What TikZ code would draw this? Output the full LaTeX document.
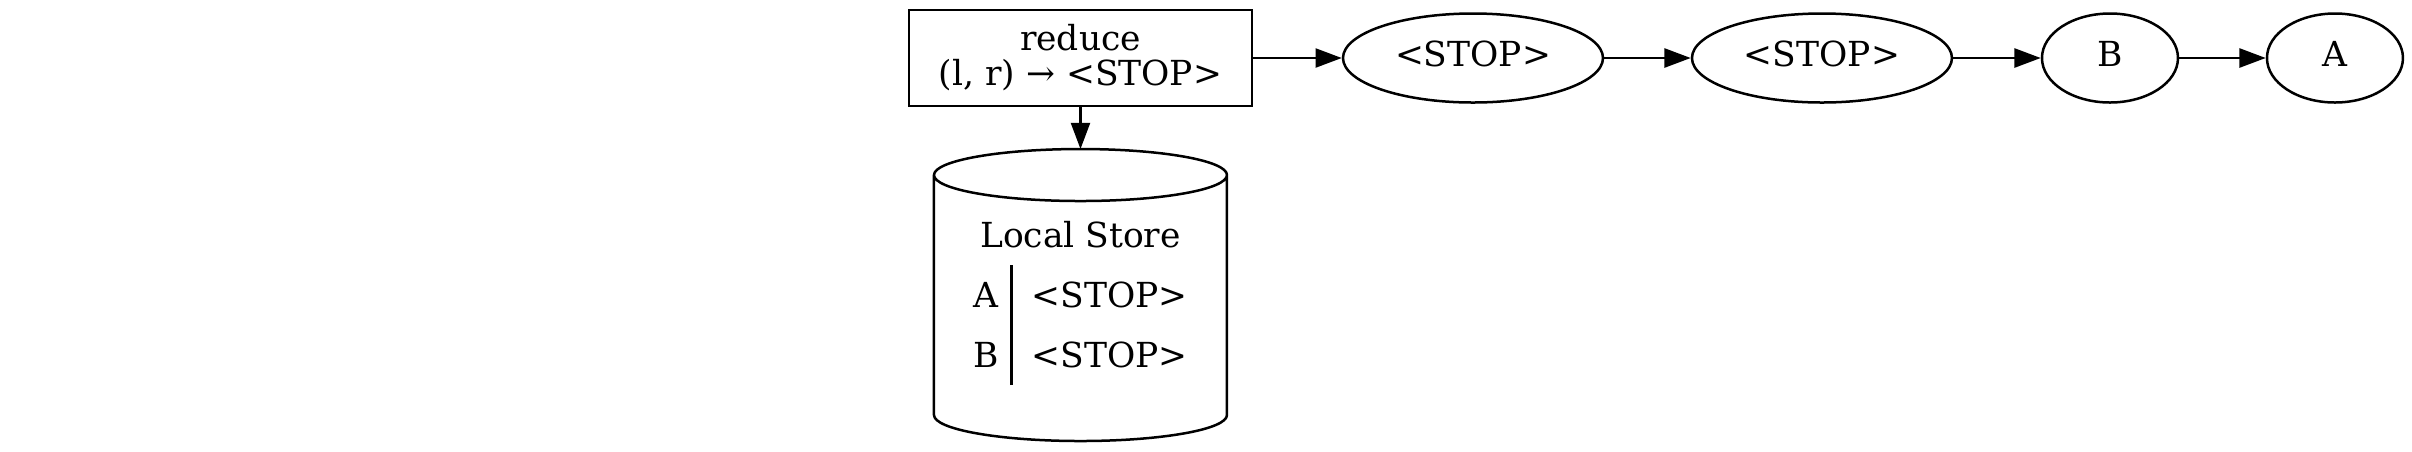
\documentclass[tikz,border=0pt]{standalone}
\usepackage{fontspec}
\setmainfont{DejaVu Serif}
\usepackage{tikz}
\usetikzlibrary{shapes,arrows.meta}
\setlength{\arrayrulewidth}{1pt}
\tikzstyle{block} = [draw, rectangle, line width=1pt, minimum width=137.2pt,
minimum height=38.4pt, inner sep=0pt, align=center, font=\fontsize{13.8pt}{14pt}\selectfont]
\tikzstyle{token} = [draw, ellipse, line width=1pt, minimum width=104pt, minimum height=35.6pt,
inner sep=0pt, text height=10pt, text depth=3.2pt, font=\fontsize{13.8pt}{14pt}\selectfont]
\tikzstyle{smalltoken} = [token, minimum width=54.4pt]
\tikzstyle{storage} = [rectangle, minimum width=117.2pt, minimum height=116.8pt,
inner sep=0pt, outer sep=0pt, font=\fontsize{13.8pt}{24pt}\selectfont]
\tikzstyle{flowArrow} = [line width=1pt,-{Triangle[length=10.5pt,width=7.6pt]}]

\begin{document}
\begin{tikzpicture}[node distance=4cm]
		\useasboundingbox (-432.2pt,23.2pt) rectangle (532.6pt,-157.2pt);
		%blocks
		\node[block](reduce){reduce\\(l, r) → <STOP>};
		\node[storage, below of=reduce, yshift=0.668cm](store){\begin{tabular}{@{}r@{\hspace{5pt}}|@{\hspace{7.6pt}}l@{}}
			\multicolumn{2}{@{}c@{}}{Local Store}\\
			A & <STOP>\\
			B & <STOP>
		\end{tabular}};
		\node[token, right of=reduce, xshift=1.518cm](stop_a){<STOP>};
		\node[token, right of=stop_a, xshift=0.906cm](stop_b){<STOP>};
		\node[smalltoken, right of=stop_b, xshift=0.049cm](key_b){B};
		\node[smalltoken, right of=key_b, xshift=-0.837cm](key_a){A};
		
		%cylinder outline
		\draw[line width=1pt]([yshift=-10.4pt]store.north west)--([yshift=10.4pt]store.south west)
			arc[start angle=180, end angle=360, x radius=58.6pt, y radius=10.4pt]
			--([yshift=-10.4pt]store.north east)
			arc[start angle=0, end angle=360, x radius=58.6pt, y radius=10.4pt];
		
		%arrows
		\draw[flowArrow](reduce)--(store);
		\draw[flowArrow](reduce)--(stop_a);
		\draw[flowArrow](stop_a)--(stop_b);
		\draw[flowArrow](stop_b)--(key_b);
		\draw[flowArrow](key_b)--(key_a);
	\end{tikzpicture}
\end{document}
